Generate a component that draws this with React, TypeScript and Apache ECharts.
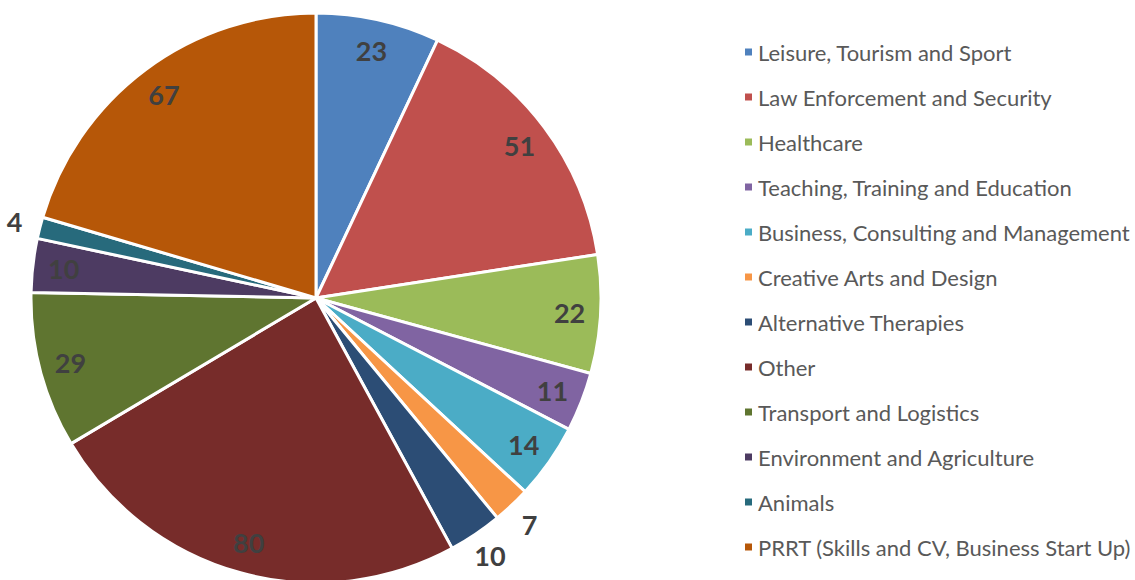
import React, { useEffect, useRef } from "react";
import * as echarts from "echarts";

const categories = [
  "Leisure, Tourism and Sport",
  "Law Enforcement and Security",
  "Healthcare",
  "Teaching, Training and Education",
  "Business, Consulting and Management",
  "Creative Arts and Design",
  "Alternative Therapies",
  "Other",
  "Transport and Logistics",
  "Environment and Agriculture",
  "Animals",
  "PRRT (Skills and CV, Business Start Up)",
];
const values = [23, 51, 22, 11, 14, 7, 10, 80, 29, 10, 4, 67];
const colors = [
  "#4F81BD", "#C0504D", "#9BBB59", "#8064A2", "#4BACC6", "#F79646",
  "#2C4D75", "#772C2A", "#5F7530", "#4D3B62", "#276A7C", "#B65708",
];
const outsideLabelIdx = [5, 6, 10];

export default function App() {
  const ref = useRef<HTMLDivElement>(null);
  useEffect(() => {
    if (!ref.current) return;
    const chart = echarts.init(ref.current, null, { renderer: "svg" });
    const data = categories.map((name, i) => ({
      name,
      value: values[i],
      itemStyle: { color: colors[i] },
    }));
    const labelData = categories.map((name, i) => ({ name, value: values[i] }));
    const center = [316, 298];
    const labelStyle = {
      color: "#404040",
      fontFamily: "Lato",
      fontWeight: "bold" as const,
      fontSize: 27,
    };
    chart.setOption({
      animation: false,
      color: colors,
      legend: {
        orient: "vertical",
        left: 743,
        top: 41,
        padding: 0,
        icon: "rect",
        itemWidth: 9,
        itemHeight: 9,
        itemGap: 23,
        selectedMode: false,
        textStyle: { color: "#595959", fontFamily: "Lato", fontSize: 22, lineHeight: 22 },
        data: categories,
      },
      series: [
        {
          type: "pie",
          center,
          radius: [0, 285],
          startAngle: 90,
          clockwise: true,
          data,
          label: { show: false },
          labelLine: { show: false },
          itemStyle: { borderColor: "#fff", borderWidth: 3 },
          silent: true,
        },
        {
          type: "pie",
          center,
          radius: [217, 285],
          startAngle: 90,
          data: labelData,
          itemStyle: { color: "rgba(0,0,0,0)" },
          label: {
            show: true,
            position: "inside",
            ...labelStyle,
            formatter: (p: any) => (outsideLabelIdx.includes(p.dataIndex) ? "" : String(p.value)),
          },
          labelLine: { show: false },
          silent: true,
          legendHoverLink: false,
        },
        {
          type: "pie",
          center,
          radius: [290, 326],
          startAngle: 90,
          data: labelData,
          itemStyle: { color: "rgba(0,0,0,0)" },
          label: {
            show: true,
            position: "inside",
            ...labelStyle,
            formatter: (p: any) => (outsideLabelIdx.includes(p.dataIndex) ? String(p.value) : ""),
          },
          labelLine: { show: false },
          silent: true,
          legendHoverLink: false,
        },
      ],
    });
    return () => chart.dispose();
  }, []);
  return (
    <div
      ref={ref}
      style={{ position: "fixed", left: 0, top: 0, width: 1135, height: 580, background: "#fff" }}
    />
  );
}
